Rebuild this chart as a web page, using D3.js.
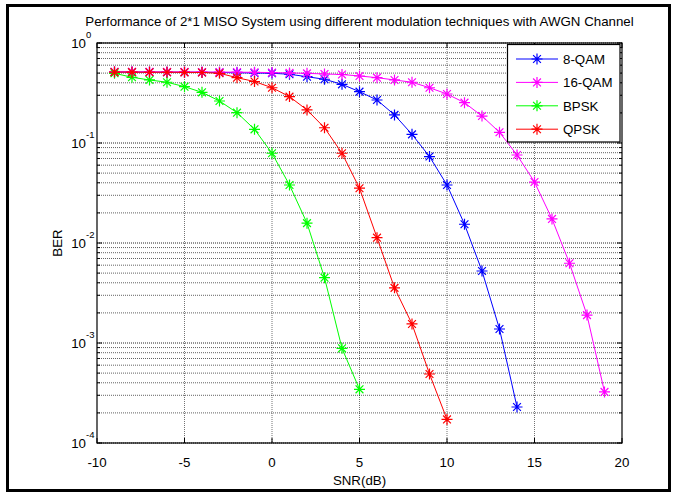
<!DOCTYPE html>
<html><head><meta charset="utf-8">
<script src="https://cdn.jsdelivr.net/npm/d3@7"></script>
<style>
body{margin:0;background:#fff;}
svg{display:block;font-family:"Liberation Sans",Arial,sans-serif;}
</style></head>
<body><svg id="c" width="676" height="496"></svg>
<script>
const titleText = "Performance of 2*1 MISO System using different modulation techniques with AWGN Channel";
const xLabel = "SNR(dB)";
const yLabel = "BER";
const xTicks = [-10, -5, 0, 5, 10, 15, 20];
const yTickExps = [0, -1, -2, -3, -4];
const seriesNames = ["8-QAM", "16-QAM", "BPSK", "QPSK"];
const seriesColors = ["#0000ff", "#ff00ff", "#00ff00", "#ff0000"];

const snr8QAM = [-9,-8,-7,-6,-5,-4,-3,-2,-1,0,1,2,3,4,5,6,7,8,9,10,11,12,13,14];
const ber8QAM = [0.512,0.512,0.511,0.51,0.51,0.509,0.507,0.504,0.501,0.498,0.487,0.46,0.434,0.386,0.326,0.269,0.191,0.122,0.0732,0.038,0.0154,0.00525,0.00138,0.000229];
const snr16QAM = [-9,-8,-7,-6,-5,-4,-3,-2,-1,0,1,2,3,4,5,6,7,8,9,10,11,12,13,14,15,16,17,18,19];
const ber16QAM = [0.516,0.515,0.515,0.514,0.514,0.513,0.512,0.511,0.509,0.506,0.502,0.497,0.49,0.484,0.468,0.45,0.427,0.405,0.357,0.309,0.253,0.186,0.128,0.0759,0.0407,0.0174,0.00627,0.0019,0.000324];
const snrBPSK = [-9,-8,-7,-6,-5,-4,-3,-2,-1,0,1,2,3,4,5];
const berBPSK = [0.498,0.454,0.427,0.405,0.366,0.321,0.263,0.201,0.137,0.079,0.038,0.0158,0.0045,0.000885,0.000344];
const snrQPSK = [-9,-8,-7,-6,-5,-4,-3,-2,-1,0,1,2,3,4,5,6,7,8,9,10];
const berQPSK = [0.512,0.511,0.51,0.51,0.509,0.507,0.498,0.45,0.412,0.357,0.291,0.214,0.142,0.079,0.0353,0.0113,0.00356,0.00155,0.00049,0.000172];

const seriesX = [snr8QAM, snr16QAM, snrBPSK, snrQPSK];
const seriesY = [ber8QAM, ber16QAM, berBPSK, berQPSK];

const svg = d3.select("#c");
const L = 97, R = 622, T = 43, B = 443;
const x = d3.scaleLinear().domain([-10, 20]).range([L, R]);
const y = d3.scaleLog().domain([1e-4, 1]).range([B, T]);
const FS = 13.3;

// outer frame
svg.append("rect").attr("x", 7.5).attr("y", 5.5).attr("width", 662).attr("height", 485)
  .attr("fill", "#fff").attr("stroke", "#000").attr("stroke-width", 3);

// grid
const g = svg.append("g");
const minorVals = [];
for (let e = -4; e < 0; e++) for (let m = 2; m <= 9; m++) minorVals.push(m * Math.pow(10, e));
g.selectAll(".ymin").data(minorVals).enter().append("line")
  .attr("x1", L).attr("x2", R).attr("y1", d => y(d)).attr("y2", d => y(d))
  .attr("stroke", "#000").attr("stroke-opacity", 0.62).attr("stroke-dasharray", "1,1");
g.selectAll(".ymaj").data(yTickExps.map(e => Math.pow(10, e))).enter().append("line")
  .attr("x1", L).attr("x2", R).attr("y1", d => y(d)).attr("y2", d => y(d))
  .attr("stroke", "#000").attr("stroke-opacity", 0.85).attr("stroke-dasharray", "1,1");
g.selectAll(".xg").data(xTicks.slice(1, -1)).enter().append("line")
  .attr("x1", d => x(d)).attr("x2", d => x(d)).attr("y1", T).attr("y2", B)
  .attr("stroke", "#000").attr("stroke-opacity", 0.55).attr("stroke-dasharray", "1,1");

// axes ticks (inside)
const ax = svg.append("g").attr("stroke", "#000").attr("stroke-width", 1);
xTicks.forEach(v => {
  ax.append("line").attr("x1", x(v)).attr("x2", x(v)).attr("y1", B).attr("y2", B - 5);
  ax.append("line").attr("x1", x(v)).attr("x2", x(v)).attr("y1", T).attr("y2", T + 5);
});
yTickExps.forEach(e => {
  const yy = y(Math.pow(10, e));
  ax.append("line").attr("x1", L).attr("x2", L + 5).attr("y1", yy).attr("y2", yy);
  ax.append("line").attr("x1", R).attr("x2", R - 5).attr("y1", yy).attr("y2", yy);
});
minorVals.forEach(v => {
  const yy = y(v);
  ax.append("line").attr("x1", L).attr("x2", L + 3).attr("y1", yy).attr("y2", yy);
  ax.append("line").attr("x1", R).attr("x2", R - 3).attr("y1", yy).attr("y2", yy);
});

// series
const line = d3.line();
const star = "M-5.5,0H5.5M0,-5.5V5.5M-3.9,-3.9L3.9,3.9M-3.9,3.9L3.9,-3.9";
const plotG = svg.append("g");
seriesNames.forEach((name, i) => {
  const pts = seriesX[i].map((sx, j) => [x(sx), y(seriesY[i][j])]);
  plotG.append("path").attr("d", line(pts)).attr("fill", "none")
    .attr("stroke", seriesColors[i]).attr("stroke-width", 1);
  plotG.selectAll(null).data(pts).enter().append("path")
    .attr("transform", d => `translate(${d[0]},${d[1]})`).attr("d", star)
    .attr("fill", "none").attr("stroke", seriesColors[i]).attr("stroke-width", 1.2);
});

// axes box
svg.append("rect").attr("x", L).attr("y", T).attr("width", R - L).attr("height", B - T)
  .attr("fill", "none").attr("stroke", "#000").attr("stroke-width", 1.2);

// tick labels
xTicks.forEach(v => {
  svg.append("text").attr("x", x(v)).attr("y", 467).attr("text-anchor", "middle")
    .attr("font-size", FS).text(v);
});
yTickExps.forEach(e => {
  const yy = y(Math.pow(10, e));
  svg.append("text").attr("x", 86).attr("y", yy + 5).attr("text-anchor", "end")
    .attr("font-size", FS).text("10");
  svg.append("text").attr("x", 86).attr("y", yy - 5).attr("text-anchor", "start")
    .attr("font-size", 9.5).text(e);
});

// labels
svg.append("text").attr("x", (L + R) / 2).attr("y", 485).attr("text-anchor", "middle")
  .attr("font-size", FS).text(xLabel);
svg.append("text").attr("transform", `translate(62,${(T + B) / 2}) rotate(-90)`)
  .attr("text-anchor", "middle").attr("font-size", FS).text(yLabel);
svg.append("text").attr("x", (L + R) / 2).attr("y", 26).attr("text-anchor", "middle")
  .attr("font-size", FS).text(titleText);

// legend
const lg = svg.append("g");
lg.append("rect").attr("x", 507.5).attr("y", 44.5).attr("width", 112.5).attr("height", 97.5)
  .attr("fill", "#fff").attr("stroke", "#000").attr("stroke-width", 1.2);
seriesNames.forEach((name, i) => {
  const ly = 59 + i * 23.4;
  lg.append("line").attr("x1", 516).attr("x2", 558).attr("y1", ly).attr("y2", ly)
    .attr("stroke", seriesColors[i]);
  lg.append("path").attr("transform", `translate(537,${ly})`).attr("d", star)
    .attr("fill", "none").attr("stroke", seriesColors[i]).attr("stroke-width", 1.2);
  lg.append("text").attr("x", 563).attr("y", ly + 5).attr("font-size", FS).text(name);
});
</script></body></html>
